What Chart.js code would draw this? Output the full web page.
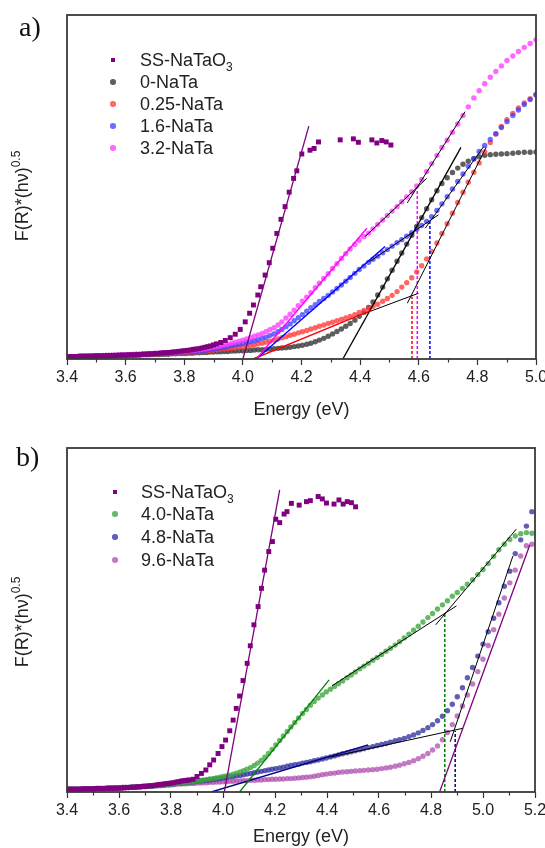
<!DOCTYPE html>
<html><head><meta charset="utf-8">
<script src="https://cdn.jsdelivr.net/npm/chart.js@4.4.0/dist/chart.umd.min.js"></script>
<style>
html,body{margin:0;padding:0;background:#fff;}
body{width:545px;height:848px;position:relative;overflow:hidden;font-family:"Liberation Sans",Arial,sans-serif;color:#222;}
.wrap{position:absolute;left:0;width:545px;height:424px;}
#wa{top:0}
#wb{top:424px}
canvas{display:block}
.panel{position:absolute;font-family:"Liberation Serif","Times New Roman",serif;font-size:28px;line-height:28px;color:#111;}
.ytitle{position:absolute;font-size:18px;white-space:nowrap;transform:translate(-50%,-50%) rotate(-90deg);color:#222;}
.ytitle sup{font-size:12px;vertical-align:0;position:relative;top:-8px;}
.lrow{position:absolute;white-space:nowrap;height:22px;line-height:22px;font-size:18px;color:#222;}
.lrow sub{font-size:12px;vertical-align:0;position:relative;top:5px;}
.mk{position:absolute;}
</style></head>
<body>
<div class="wrap" id="wa"><canvas id="ca" width="545" height="424"></canvas></div>
<div class="wrap" id="wb"><canvas id="cb" width="545" height="424"></canvas></div>
<div class="panel" style="left:19px;top:13px;">a)</div>
<div class="panel" style="left:16px;top:443px;">b)</div>
<div class="ytitle" style="left:22px;top:196px;">F(R)*(hν)<sup>0.5</sup></div>
<div class="ytitle" style="left:22px;top:622px;">F(R)*(hν)<sup>0.5</sup></div>
<div id="legA"></div>
<div id="legB"></div>
<script>
// ---------- shared energy grid (eV) ----------
const energy = [3.397,3.407,3.416,3.425,3.435,3.444,3.454,3.464,3.473,3.483,
3.493,3.503,3.513,3.523,3.533,3.543,3.553,3.563,3.573,3.584,
3.594,3.605,3.615,3.626,3.636,3.647,3.658,3.669,3.680,3.690,
3.701,3.713,3.724,3.735,3.746,3.758,3.769,3.780,3.792,3.804,
3.815,3.827,3.839,3.851,3.863,3.875,3.887,3.899,3.912,3.924,
3.937,3.949,3.962,3.974,3.987,4.000,4.013,4.026,4.039,4.052,
4.066,4.079,4.092,4.106,4.120,4.133,4.147,4.161,4.175,4.189,
4.203,4.218,4.232,4.247,4.261,4.276,4.291,4.306,4.321,4.336,
4.351,4.366,4.382,4.397,4.413,4.429,4.444,4.460,4.477,4.493,
4.509,4.526,4.542,4.559,4.576,4.593,4.610,4.627,4.644,4.662,
4.679,4.697,4.715,4.733,4.751,4.769,4.788,4.806,4.825,4.844,
4.863,4.882,4.901,4.921,4.940,4.960,4.980,5.000,5.020,5.041,
5.061,5.082,5.103,5.124,5.145,5.167,5.188,5.210];

// ---------- panel a ----------
const ssEnergyA = [3.40,3.41,3.42,3.43,3.44,3.45,3.46,3.47,3.48,3.49,
3.50,3.51,3.52,3.53,3.54,3.55,3.56,3.57,3.58,3.59,
3.60,3.61,3.62,3.63,3.64,3.65,3.66,3.67,3.68,3.69,
3.70,3.71,3.72,3.73,3.74,3.75,3.76,3.77,3.78,3.79,
3.80,3.81,3.82,3.83,3.84,3.85,3.86,3.87,3.88,3.89,3.90,3.91,
3.925,3.940,3.957,3.974,3.991,4.008,4.023,4.036,4.051,4.061,4.076,4.090,4.102,4.116,4.130,4.144,4.158,4.173,4.184,4.201,4.229,4.243,4.258,4.332,4.377,4.394,4.440,4.457,4.474,4.489,4.505];
const ssValuesA = [0.7,0.7,0.7,0.7,0.7,0.8,0.8,0.8,0.8,0.8,
0.9,0.9,0.9,0.9,1.0,1.0,1.0,1.0,1.1,1.1,
1.1,1.2,1.2,1.2,1.3,1.3,1.4,1.4,1.5,1.5,
1.6,1.6,1.7,1.8,1.8,1.9,2.0,2.1,2.2,2.3,
2.4,2.5,2.6,2.8,2.9,3.0,3.2,3.4,3.6,3.8,4.1,4.4,
4.8,5.4,6.2,7.2,8.6,10.8,13.3,15.7,18.6,21.0,24.4,28.0,32.2,36.5,40.6,44.3,48.5,52.5,54.7,59.6,60.7,61.2,63.1,63.7,64.0,63.0,63.7,62.8,63.5,63.1,62.2];

const nata0 = [0.6,0.6,0.6,0.7,0.7,0.7,0.7,0.7,0.8,0.8,
0.8,0.8,0.8,0.9,0.9,0.9,0.9,0.9,1.0,1.0,
1.0,1.0,1.1,1.1,1.1,1.1,1.2,1.2,1.2,1.3,
1.3,1.3,1.4,1.4,1.4,1.5,1.5,1.6,1.6,1.6,
1.7,1.7,1.8,1.8,1.9,1.9,2.0,2.0,2.1,2.1,
2.2,2.2,2.3,2.3,2.4,2.4,2.5,2.5,2.6,2.7,
2.7,2.8,2.9,3.0,3.1,3.2,3.3,3.4,3.6,3.8,
4.0,4.3,4.6,5.0,5.5,6.0,6.6,7.3,8.0,8.7,
9.5,10.3,11.3,12.4,13.6,15.0,16.6,18.6,20.9,23.3,
25.8,28.4,30.8,33.4,36.0,38.5,41.1,43.7,46.3,48.9,
51.0,52.7,54.2,55.5,56.6,57.5,58.2,58.8,59.2,59.4,
59.5,59.6,59.7,59.8,60.0,60.1,60.1,60.2];
const nata025 = [0.7,0.7,0.7,0.7,0.7,0.8,0.8,0.8,0.8,0.8,
0.9,0.9,0.9,0.9,1.0,1.0,1.0,1.0,1.1,1.1,
1.1,1.2,1.2,1.2,1.3,1.3,1.3,1.4,1.4,1.5,
1.5,1.5,1.6,1.6,1.7,1.7,1.8,1.8,1.9,1.9,
2.0,2.0,2.1,2.2,2.3,2.4,2.5,2.6,2.7,2.8,
2.9,3.0,3.1,3.2,3.4,3.5,3.7,3.9,4.1,4.4,
4.6,4.9,5.2,5.5,5.8,6.2,6.5,6.9,7.2,7.6,
7.9,8.3,8.7,9.1,9.5,9.9,10.3,10.7,11.1,11.5,
11.9,12.4,12.9,13.5,14.1,14.7,15.3,15.9,16.8,17.6,
18.5,19.6,20.9,22.2,23.6,25.3,27.1,29.1,31.3,33.7,
36.5,39.3,42.4,45.5,48.5,51.4,54.3,57.0,60.2,62.9,
65.4,67.6,69.6,71.4,73.0,74.4,75.7,76.8];
const nata16 = [0.7,0.7,0.7,0.7,0.7,0.8,0.8,0.8,0.8,0.8,
0.9,0.9,0.9,0.9,1.0,1.0,1.0,1.1,1.1,1.1,
1.2,1.2,1.2,1.3,1.3,1.3,1.4,1.4,1.5,1.5,
1.6,1.6,1.7,1.7,1.8,1.8,1.9,2.0,2.0,2.1,
2.2,2.2,2.3,2.4,2.5,2.6,2.8,2.9,3.1,3.3,
3.5,3.7,3.9,4.1,4.3,4.5,4.8,5.0,5.3,5.6,
6.0,6.3,6.8,7.3,7.9,8.6,9.4,10.2,11.1,12.0,
12.9,13.9,14.9,15.8,16.7,17.6,18.5,19.5,20.5,21.5,
22.6,23.7,24.9,26.0,27.0,28.1,29.0,29.9,30.9,31.8,
32.8,33.8,34.7,35.7,36.7,37.7,38.8,40.0,41.4,43.2,
45.1,47.2,49.4,51.6,53.8,56.0,58.2,60.3,62.1,63.8,
65.5,67.3,69.0,70.8,72.4,74.0,75.4,76.8];
const nata32 = [0.7,0.7,0.7,0.7,0.8,0.8,0.8,0.8,0.8,0.9,
0.9,0.9,0.9,1.0,1.0,1.0,1.1,1.1,1.1,1.2,
1.2,1.2,1.3,1.3,1.4,1.4,1.5,1.5,1.6,1.6,
1.7,1.7,1.8,1.8,1.9,2.0,2.0,2.1,2.2,2.3,
2.4,2.5,2.6,2.7,2.8,3.0,3.2,3.4,3.6,3.8,
4.1,4.3,4.6,4.9,5.2,5.5,5.8,6.2,6.6,7.0,
7.4,7.9,8.5,9.1,9.9,10.8,11.9,13.0,14.2,15.5,
16.8,18.0,19.3,20.7,22.0,23.4,24.8,26.3,27.7,29.2,
30.6,32.0,33.3,34.5,35.6,36.6,37.8,39.1,40.4,41.7,
43.0,44.3,45.7,47.1,48.6,50.3,52.2,54.5,56.8,59.2,
61.5,63.6,65.9,68.3,70.8,73.3,75.9,78.0,80.0,81.9,
83.6,85.2,86.8,88.1,89.4,90.6,91.7,92.8];

// fit lines and band-gap markers, panel a  [energy, value]
const fitSSA = [[4.000,0],[4.225,67.7]];
const fitPinkLowA = [[4.046,0],[4.423,38.0]];
const fitBlueLowA = [[4.046,0],[4.485,32.7]];
const fitRedLowA = [[4.035,0],[4.44,14.2]];
const fitGreyA = [[4.341,0],[4.744,61.5]];
const fitRedKneeA = [[4.417,13.3],[4.599,19.1]];
const fitRedUpA = [[4.561,16.2],[4.830,61.5]];
const fitBlueKneeA = [[4.432,28.3],[4.667,41.9]];
const fitBlueUpA = [[4.622,38.0],[4.821,61.7]];
const fitPinkKneeA = [[4.417,35.6],[4.627,52.5]];
const fitPinkUpA = [[4.561,45.4],[4.758,71.9]];
const gapRedA = [[4.577,0],[4.577,18.1]];
const gapPinkA = [[4.595,0],[4.595,49.5]];
const gapBlueA = [[4.638,0],[4.638,40.0]];

// ---------- panel b ----------
const ssEnergyB = [3.40,3.41,3.42,3.43,3.44,3.45,3.46,3.47,3.48,3.49,
3.50,3.51,3.52,3.53,3.54,3.55,3.56,3.57,3.58,3.59,
3.60,3.61,3.62,3.63,3.64,3.65,3.66,3.67,3.68,3.69,
3.70,3.71,3.72,3.73,3.74,3.75,3.76,3.77,3.78,3.79,
3.80,3.81,3.82,3.83,3.84,3.85,3.86,3.87,
3.885,3.900,3.917,3.934,3.949,3.964,3.981,3.996,4.010,4.026,4.039,4.051,4.064,4.077,4.093,4.105,4.119,4.135,4.148,4.160,4.176,4.190,4.203,4.218,4.235,4.246,4.263,4.293,4.321,4.336,4.366,4.382,4.398,4.427,4.446,4.462,4.478,4.494,4.510];
const ssValuesB = [0.8,0.8,0.8,0.8,0.8,0.8,0.9,0.9,0.9,0.9,
0.9,1.0,1.0,1.0,1.0,1.0,1.1,1.1,1.1,1.1,
1.1,1.2,1.2,1.3,1.3,1.4,1.4,1.5,1.5,1.6,
1.7,1.7,1.8,1.9,2.0,2.1,2.2,2.3,2.4,2.5,
2.6,2.7,2.9,3.0,3.2,3.3,3.4,3.5,
3.7,4.5,5.4,6.4,7.9,9.3,11.2,13.2,15.1,17.8,20.9,24.3,27.9,32.4,37.4,42.5,48.6,53.9,59.2,64.5,69.9,72.8,79.3,78.3,80.8,81.5,83.9,83.4,84.4,84.7,85.9,85.2,84.0,83.7,84.9,83.7,84.4,84.1,82.9];

const nata40 = [0.8,0.8,0.8,0.8,0.8,0.8,0.8,0.9,0.9,0.9,
0.9,0.9,1.0,1.0,1.0,1.0,1.1,1.1,1.1,1.2,
1.2,1.2,1.3,1.3,1.3,1.4,1.4,1.5,1.5,1.6,
1.6,1.7,1.7,1.8,1.9,1.9,2.0,2.1,2.2,2.3,
2.4,2.5,2.6,2.7,2.8,2.9,3.0,3.2,3.3,3.5,
3.6,3.8,3.9,4.1,4.3,4.5,4.7,4.9,5.2,5.5,
5.8,6.2,6.6,7.1,7.7,8.4,9.2,10.1,11.2,12.4,
13.7,15.0,16.3,17.6,18.9,20.2,21.5,22.8,24.0,25.2,
26.3,27.3,28.2,29.1,29.9,30.7,31.5,32.3,33.2,34.0,
34.9,35.8,36.6,37.4,38.3,39.1,40.0,40.9,41.8,42.7,
43.7,44.8,45.9,47.0,48.2,49.4,50.7,51.9,53.2,54.4,
55.6,56.9,58.0,59.2,60.4,61.7,63.2,64.7,66.4,68.5,
70.4,72.0,73.4,74.4,75.1,75.4,75.2,75.0];
const nata48 = [0.8,0.8,0.8,0.8,0.8,0.8,0.8,0.9,0.9,0.9,
0.9,0.9,1.0,1.0,1.0,1.0,1.1,1.1,1.1,1.2,
1.2,1.2,1.3,1.3,1.3,1.4,1.4,1.5,1.5,1.6,
1.6,1.7,1.7,1.8,1.9,1.9,2.0,2.1,2.2,2.3,
2.4,2.5,2.6,2.7,2.8,2.9,3.0,3.1,3.2,3.3,
3.4,3.5,3.7,3.8,3.9,4.1,4.2,4.4,4.5,4.7,
4.8,5.0,5.2,5.4,5.6,5.8,6.0,6.2,6.4,6.6,
6.8,7.0,7.2,7.5,7.7,7.9,8.1,8.4,8.6,8.8,
9.1,9.3,9.6,9.9,10.2,10.5,10.8,11.1,11.4,11.7,
12.0,12.3,12.6,12.9,13.2,13.5,13.8,14.1,14.5,14.9,
15.2,15.6,16.1,16.6,17.2,17.9,18.7,19.6,20.7,22.0,
23.6,25.5,27.7,30.3,33.2,36.2,39.5,43.0,46.6,50.5,
55.0,59.8,64.2,69.3,73.3,77.3,81.5,84.5];
const nata96 = [0.8,0.8,0.8,0.8,0.8,0.8,0.8,0.9,0.9,0.9,
0.9,0.9,1.0,1.0,1.0,1.0,1.1,1.1,1.1,1.2,
1.2,1.2,1.3,1.3,1.3,1.4,1.4,1.5,1.5,1.6,
1.6,1.7,1.7,1.8,1.8,1.9,1.9,2.0,2.0,2.1,
2.2,2.3,2.3,2.4,2.4,2.5,2.5,2.6,2.6,2.7,
2.7,2.8,2.8,2.9,2.9,3.0,3.0,3.1,3.1,3.2,
3.2,3.3,3.3,3.4,3.4,3.5,3.5,3.6,3.6,3.7,
3.7,3.8,3.8,3.9,3.9,4.0,4.1,4.2,4.3,4.4,
4.6,4.8,5.0,5.2,5.4,5.5,5.7,5.8,5.9,6.0,
6.1,6.2,6.3,6.4,6.5,6.6,6.8,7.0,7.2,7.5,
7.8,8.2,8.6,9.1,9.7,10.4,11.2,12.2,13.4,15.2,
17.3,19.6,22.1,25.0,28.2,31.4,35.0,38.6,42.6,47.2,
51.7,56.4,60.8,64.5,68.6,71.6,72.0,null];

const fitSSB = [[4.005,0],[4.218,87.8]];
const fitGreenLowB = [[4.064,0],[4.408,32.6]];
const fitNavyLowB = [[3.955,0],[4.558,13.7]];
const fitGreenKneeB = [[4.420,30.9],[4.898,54.1]];
const fitGreenUpB = [[4.818,48.6],[5.128,76.4]];
const fitBlueKneeB = [[4.410,10.1],[4.921,18.5]];
const fitBlueUpB = [[4.874,14.6],[5.115,68.6]];
const fit96B = [[4.833,0],[5.180,71.8]];
const gapGreenB = [[4.853,0],[4.853,51.9]];
const gapNavyB = [[4.893,0],[4.893,17.7]];

const namesA = ['SS-NaTaO3','0-NaTa','0.25-NaTa','1.6-NaTa','3.2-NaTa'];
const namesB = ['SS-NaTaO3','4.0-NaTa','4.8-NaTa','9.6-NaTa'];

// ---------- helpers ----------
const C = {
  ss:'#800080', grey:'rgba(60,60,60,0.82)', red:'rgba(255,60,60,0.78)', blue:'rgba(60,60,255,0.75)',
  pink:'rgba(255,60,255,0.78)', green:'rgba(60,165,60,0.78)', navy:'rgba(50,50,160,0.78)', orchid:'rgba(170,70,170,0.72)'
};
function pts(xs, ys){ const o=[]; for(let i=0;i<ys.length && i<xs.length;i++){ if(ys[i]!==null && ys[i]!==undefined) o.push({x:xs[i],y:ys[i]}); } return o; }
function seg(a){ return a.map(p=>({x:p[0],y:p[1]})); }
function dots(xs, ys, color, order, square){
  return {data:pts(xs,ys), showLine:false, pointStyle: square?'rect':'circle', pointRadius: square?3.5:2.7,
    pointBackgroundColor:color, pointBorderWidth:0, pointHoverRadius:0, order:order};
}
function line(a, color, w, dash){
  return {data:seg(a), showLine:true, borderColor:color, borderWidth:w||1.1, borderDash:dash||[], pointRadius:0, pointHoverRadius:0, order:0, fill:false};
}
const framePlugin = {
  id:'frame',
  afterDraw(chart){
    const {ctx, chartArea:{left,right,top,bottom}, scales:{x}} = chart;
    ctx.save();
    ctx.strokeStyle='#333'; ctx.lineWidth=1.2;
    for(let k=Math.round(x.min*10); k<=Math.round(x.max*10); k++){
      if(k%2===0) continue;
      const px = Math.round(x.getPixelForValue(k/10))+0.5;
      ctx.beginPath(); ctx.moveTo(px,bottom); ctx.lineTo(px,bottom+3.5); ctx.stroke();
    }
    ctx.strokeStyle='#3a3a3a'; ctx.lineWidth=1.8;
    ctx.strokeRect(left,top,right-left,bottom-top);
    ctx.restore();
  }
};
function makeChart(id, datasets, xmax, padTop, padRight, plotBottom, titlePadBottom){
  const H = 424;
  return new Chart(document.getElementById(id), {
    type:'scatter',
    data:{datasets},
    options:{
      responsive:false, animation:false, devicePixelRatio:1,
      layout:{padding:{left:67,right:padRight,top:padTop,bottom:0}},
      plugins:{legend:{display:false}, tooltip:{enabled:false}},
      scales:{
        x:{type:'linear', min:3.4, max:xmax,
          ticks:{stepSize:0.2, padding:3, color:'#222', font:{family:'"Liberation Sans", Arial, sans-serif', size:16},
            callback:(v)=>Number(v).toFixed(1), maxRotation:0, autoSkip:false},
          grid:{drawOnChartArea:false, drawTicks:true, tickLength:6, tickColor:'#333', tickWidth:1.2},
          border:{display:false},
          title:{display:true, text:'Energy (eV)', color:'#222', font:{family:'"Liberation Sans", Arial, sans-serif', size:18}, padding:{top:0,bottom:titlePadBottom}},
          afterFit(s){ s.height = H - plotBottom; s.paddingLeft = 0; s.paddingRight = 0; }
        },
        y:{type:'linear', min:0, max:100, display:false}
      }
    },
    plugins:[framePlugin]
  });
}

makeChart('ca', [
  line(fitSSA, '#800080', 1.3),
  line(fitPinkLowA, '#ff00ff', 1.4),
  line(fitBlueLowA, '#0000ff', 1.4),
  line(fitRedLowA, '#ff0000', 1.4),
  line(fitGreyA, '#000', 1.3),
  line(fitRedKneeA, '#000', 1.0),
  line(fitRedUpA, '#000', 1.0),
  line(fitBlueKneeA, '#000', 1.0),
  line(fitBlueUpA, '#000', 1.0),
  line(fitPinkKneeA, '#000', 1.0),
  line(fitPinkUpA, '#000', 1.0),
  line(gapRedA, '#ff0000', 1.5, [3,2]),
  line(gapPinkA, '#ff00ff', 1.5, [3,2]),
  line(gapBlueA, '#0000ff', 1.5, [3,2]),
  dots(ssEnergyA, ssValuesA, C.ss, 1, true),
  dots(energy, nata32, C.pink, 2),
  dots(energy, nata16, C.blue, 3),
  dots(energy, nata025, C.red, 4),
  dots(energy, nata0, C.grey, 5)
], 5.0, 15, 9, 359, 3);

makeChart('cb', [
  line(fitSSB, '#800080', 1.3),
  line(fitGreenLowB, '#008000', 1.3),
  line(fitNavyLowB, '#000080', 1.4),
  line(fitGreenKneeB, '#000', 1.0),
  line(fitGreenUpB, '#000', 1.0),
  line(fitBlueKneeB, '#000', 1.0),
  line(fitBlueUpB, '#000', 1.0),
  line(fit96B, '#800080', 1.3),
  line(gapGreenB, '#008000', 1.5, [3,2]),
  line(gapNavyB, '#000080', 1.5, [3,2]),
  dots(ssEnergyB, ssValuesB, C.ss, 1, true),
  dots(energy, nata40, C.green, 2),
  dots(energy, nata48, C.navy, 3),
  dots(energy, nata96, C.orchid, 4)
], 5.2, 24, 10, 368, 0);

// ---------- legends (HTML text) ----------
function legend(elId, names, colors, mx, tx, ys){
  const el = document.getElementById(elId);
  names.forEach((n,i)=>{
    const row = document.createElement('div');
    row.className='lrow';
    row.style.left = tx+'px'; row.style.top = (ys[i]-11)+'px';
    const m = n.match(/^(.*O)(3)$/);
    row.innerHTML = m ? (m[1]+'<sub>'+m[2]+'</sub>') : n;
    el.appendChild(row);
    const mk = document.createElement('div');
    mk.className='mk';
    const sq = i===0;
    const s = sq?4.5:5.5;
    mk.style.width=s+'px'; mk.style.height=s+'px';
    mk.style.left=(mx-s/2)+'px'; mk.style.top=(ys[i]-s/2)+'px';
    mk.style.background=colors[i];
    if(!sq) mk.style.borderRadius='50%';
    el.appendChild(mk);
  });
}
legend('legA', namesA, [C.ss,C.grey,C.red,C.blue,C.pink], 113, 140, [60,82,104,126,148]);
legend('legB', namesB, [C.ss,C.green,C.navy,C.orchid], 115, 141, [492,514,537,560]);
</script>
</body></html>
